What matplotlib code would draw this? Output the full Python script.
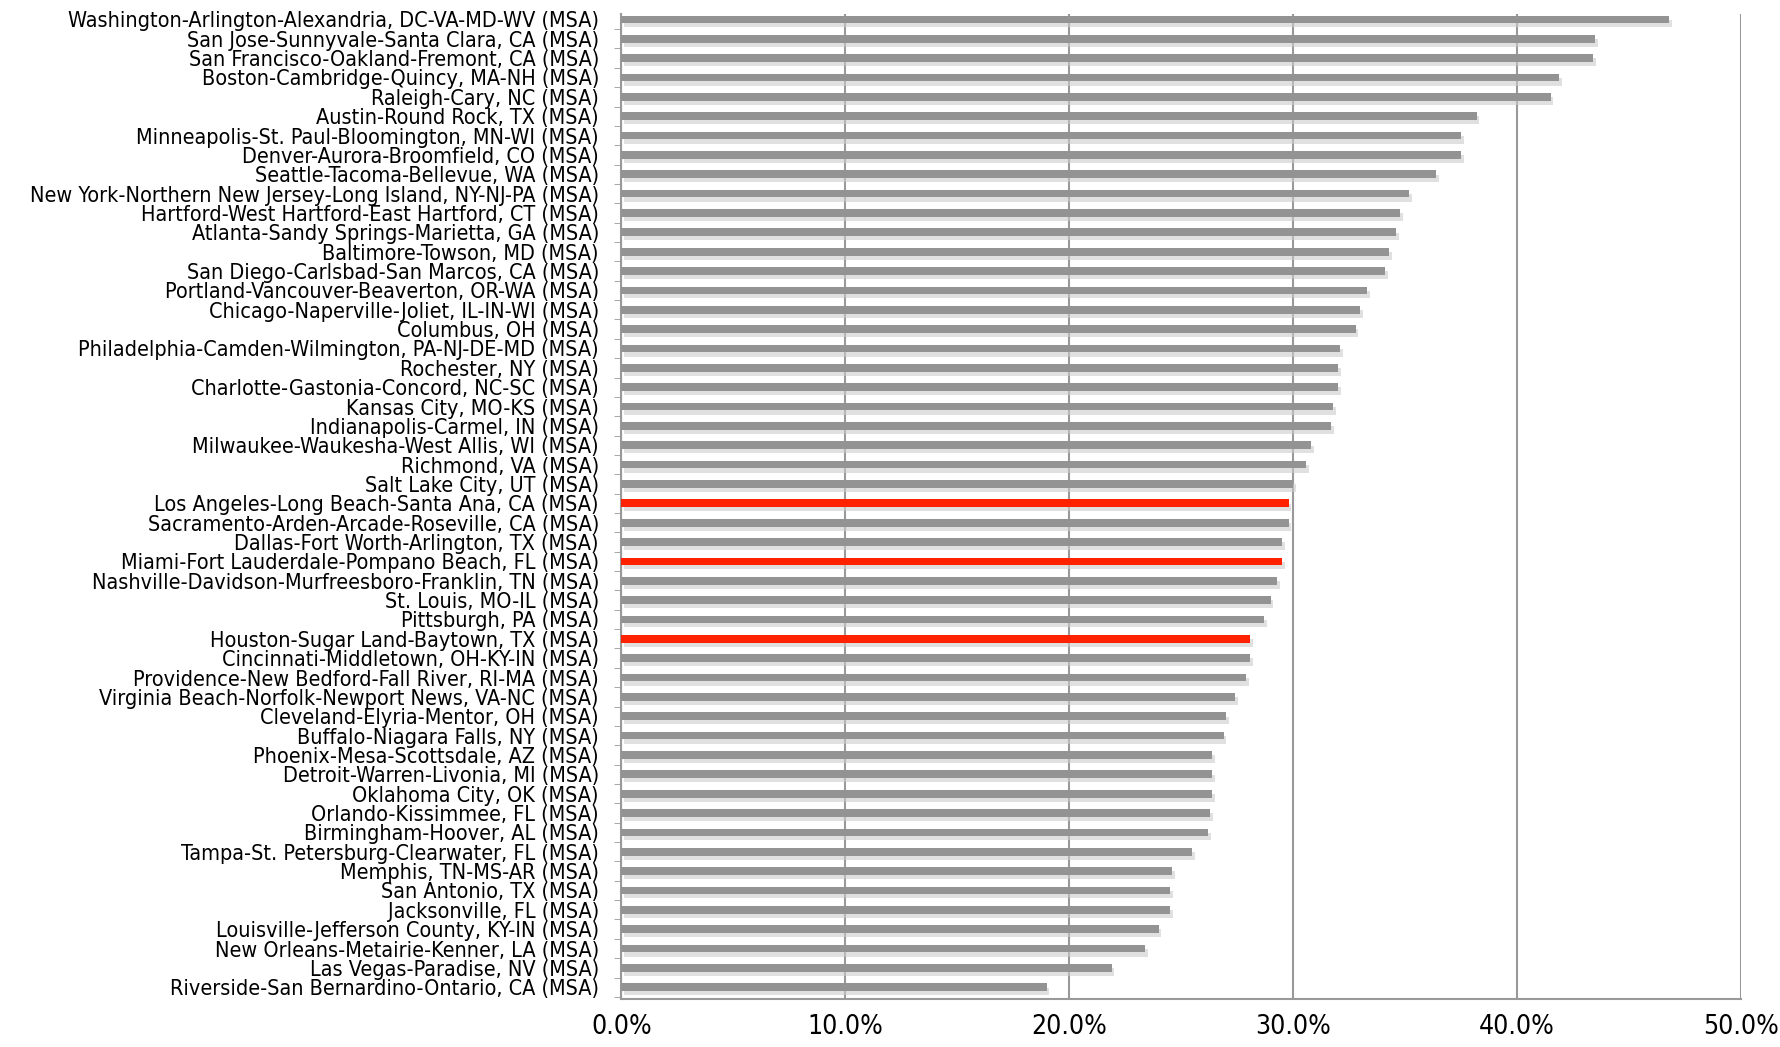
import numpy as np
import matplotlib
matplotlib.use('Agg')
import matplotlib.pyplot as plt
import matplotlib.patheffects as pe
from matplotlib.ticker import FuncFormatter, FixedLocator

# metro areas, top to bottom as shown
metros = [
    'Washington-Arlington-Alexandria, DC-VA-MD-WV (MSA)',
    'San Jose-Sunnyvale-Santa Clara, CA (MSA)',
    'San Francisco-Oakland-Fremont, CA (MSA)',
    'Boston-Cambridge-Quincy, MA-NH (MSA)',
    'Raleigh-Cary, NC (MSA)',
    'Austin-Round Rock, TX (MSA)',
    'Minneapolis-St. Paul-Bloomington, MN-WI (MSA)',
    'Denver-Aurora-Broomfield, CO (MSA)',
    'Seattle-Tacoma-Bellevue, WA (MSA)',
    'New York-Northern New Jersey-Long Island, NY-NJ-PA (MSA)',
    'Hartford-West Hartford-East Hartford, CT (MSA)',
    'Atlanta-Sandy Springs-Marietta, GA (MSA)',
    'Baltimore-Towson, MD (MSA)',
    'San Diego-Carlsbad-San Marcos, CA (MSA)',
    'Portland-Vancouver-Beaverton, OR-WA (MSA)',
    'Chicago-Naperville-Joliet, IL-IN-WI (MSA)',
    'Columbus, OH (MSA)',
    'Philadelphia-Camden-Wilmington, PA-NJ-DE-MD (MSA)',
    'Rochester, NY (MSA)',
    'Charlotte-Gastonia-Concord, NC-SC (MSA)',
    'Kansas City, MO-KS (MSA)',
    'Indianapolis-Carmel, IN (MSA)',
    'Milwaukee-Waukesha-West Allis, WI (MSA)',
    'Richmond, VA (MSA)',
    'Salt Lake City, UT (MSA)',
    'Los Angeles-Long Beach-Santa Ana, CA (MSA)',
    'Sacramento-Arden-Arcade-Roseville, CA (MSA)',
    'Dallas-Fort Worth-Arlington, TX (MSA)',
    'Miami-Fort Lauderdale-Pompano Beach, FL (MSA)',
    'Nashville-Davidson-Murfreesboro-Franklin, TN (MSA)',
    'St. Louis, MO-IL (MSA)',
    'Pittsburgh, PA (MSA)',
    'Houston-Sugar Land-Baytown, TX (MSA)',
    'Cincinnati-Middletown, OH-KY-IN (MSA)',
    'Providence-New Bedford-Fall River, RI-MA (MSA)',
    'Virginia Beach-Norfolk-Newport News, VA-NC (MSA)',
    'Cleveland-Elyria-Mentor, OH (MSA)',
    'Buffalo-Niagara Falls, NY (MSA)',
    'Phoenix-Mesa-Scottsdale, AZ (MSA)',
    'Detroit-Warren-Livonia, MI (MSA)',
    'Oklahoma City, OK (MSA)',
    'Orlando-Kissimmee, FL (MSA)',
    'Birmingham-Hoover, AL (MSA)',
    'Tampa-St. Petersburg-Clearwater, FL (MSA)',
    'Memphis, TN-MS-AR (MSA)',
    'San Antonio, TX (MSA)',
    'Jacksonville, FL (MSA)',
    'Louisville-Jefferson County, KY-IN (MSA)',
    'New Orleans-Metairie-Kenner, LA (MSA)',
    'Las Vegas-Paradise, NV (MSA)',
    'Riverside-San Bernardino-Ontario, CA (MSA)',
]

# share in percent
pct = [46.8, 43.5, 43.4, 41.9, 41.5, 38.2, 37.5, 37.5, 36.4, 35.2,
       34.8, 34.6, 34.3, 34.1, 33.3, 33.0, 32.8, 32.1, 32.0, 32.0,
       31.8, 31.7, 30.8, 30.6, 30.0, 29.8, 29.8, 29.5, 29.5, 29.3,
       29.0, 28.7, 28.1, 28.1, 27.9, 27.4, 27.0, 26.9, 26.4, 26.4,
       26.4, 26.3, 26.2, 25.5, 24.6, 24.5, 24.5, 24.0, 23.4, 21.9,
       19.0]

# highlighted ones
highlight = ['Los Angeles-Long Beach-Santa Ana, CA (MSA)',
             'Miami-Fort Lauderdale-Pompano Beach, FL (MSA)',
             'Houston-Sugar Land-Baytown, TX (MSA)']

plt.rcParams['font.family'] = ['DejaVu Sans']
plt.rcParams['font.stretch'] = 'condensed'

fig = plt.figure(figsize=(17.8, 10.47), dpi=100)
ax = fig.add_axes([0.349, 0.046, 0.629, 0.941])

y = np.arange(len(metros))
colors = ['#ff2200' if m in highlight else '#939393' for m in metros]
bars = ax.barh(y, pct, height=0.4, color=colors, zorder=3)
for b in bars:
    b.set_path_effects([pe.SimplePatchShadow(offset=(2, -3), shadow_rgbFace='#cccccc', alpha=0.6), pe.Normal()])

ax.set_xlim(0, 50)
ax.set_ylim(50.6, -0.3)
ax.set_xticks(np.arange(0, 51, 10))
ax.xaxis.set_major_formatter(FuncFormatter(lambda v, p: f'{v:.1f}%'))
ax.set_yticks(y)
ax.set_yticklabels(metros, fontsize=15.5, fontstretch='condensed')
ax.yaxis.set_minor_locator(FixedLocator(np.arange(-0.5, 51, 1)))
ax.tick_params(axis='y', which='major', length=0, pad=16)
ax.tick_params(axis='y', which='minor', length=5, color='#999999', direction='out')
ax.tick_params(axis='x', length=0, pad=11, labelsize=19)
for t in ax.get_xticklabels():
    t.set_fontstretch('condensed')

ax.grid(axis='x', color='#999999', linewidth=1.5, zorder=0)
for s in ['top', 'right']:
    ax.spines[s].set_visible(False)
ax.spines['left'].set_color('#999999')
ax.spines['bottom'].set_color('#999999')
ax.spines['left'].set_linewidth(1.5)
ax.spines['bottom'].set_linewidth(1.5)

plt.savefig('out.png', dpi=100)
